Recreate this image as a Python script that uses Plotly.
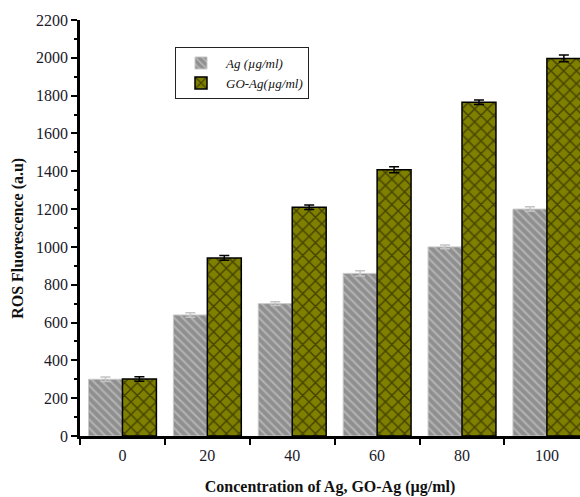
import plotly.graph_objects as go

categories = ["0", "20", "40", "60", "80", "100"]
ag_values = [300, 640, 700, 860, 1000, 1200]
ag_errors = [12, 12, 10, 14, 10, 12]
goag_values = [302, 942, 1210, 1408, 1765, 1997]
goag_errors = [12, 12, 12, 16, 12, 18]
y_ticks = list(range(0, 2201, 200))

SERIF = "Liberation Serif, Times New Roman, serif"

fig = go.Figure()
fig.add_trace(go.Bar(
    x=categories, y=ag_values, name="<i>Ag (µg/ml)</i>",
    error_y=dict(type="data", array=ag_errors, color="#c4c4c4", thickness=1.5, width=5),
    marker=dict(
        color="#8f8f8f",
        line=dict(color="#c8c8c8", width=1),
        pattern=dict(shape="\\", bgcolor="#8f8f8f", fgcolor="#d8d8d8", size=6, solidity=0.35),
    ),
))
fig.add_trace(go.Bar(
    x=categories, y=goag_values, name="<i>GO-Ag(µg/ml)</i>",
    error_y=dict(type="data", array=goag_errors, color="#000000", thickness=1.5, width=5),
    marker=dict(
        color="#7f7f00",
        line=dict(color="#000000", width=1.5),
        pattern=dict(shape="x", bgcolor="#7f7f00", fgcolor="#0a0a00", size=9, solidity=0.3),
    ),
))

fig.update_layout(
    width=580, height=497,
    margin=dict(l=80, r=0, t=20, b=61),
    paper_bgcolor="white", plot_bgcolor="white",
    barmode="group", bargap=0.2, bargroupgap=0,
    font=dict(family=SERIF, size=16, color="#1a1a2a"),
    showlegend=True,
    legend=dict(
        x=0.19, y=0.935, xanchor="left", yanchor="top",
        bgcolor="white", bordercolor="#222", borderwidth=1,
        font=dict(family=SERIF, size=13, color="#111"),
        tracegroupgap=2, itemwidth=40,
    ),
    xaxis=dict(
        type="category", categoryorder="array", categoryarray=categories,
        range=[-0.5, 5.39], tickson="boundaries",
        showline=True, linecolor="black", linewidth=2.5,
        ticks="outside", ticklen=6, tickwidth=2, tickcolor="black",
        showgrid=False, zeroline=False, ticklabelstandoff=3,
        tickfont=dict(family=SERIF, size=16),
        title=dict(text="<b>Concentration of Ag, GO-Ag (µg/ml)</b>",
                   font=dict(family=SERIF, size=16, color="#111"), standoff=18),
    ),
    yaxis=dict(
        range=[0, 2200], tickvals=y_ticks,
        showline=True, linecolor="black", linewidth=2.5,
        ticks="outside", ticklen=6, tickwidth=2, tickcolor="black",
        minor=dict(dtick=100, tick0=0, ticks="outside", ticklen=3, tickwidth=2, tickcolor="black", showgrid=False),
        showgrid=False, zeroline=False,
        tickfont=dict(family=SERIF, size=16),
    ),
    annotations=[dict(
        text="<b>ROS Fluorescence (a.u)</b>", textangle=-90,
        xref="paper", yref="paper", x=-0.124, y=0.474,
        xanchor="center", yanchor="middle", showarrow=False,
        font=dict(family=SERIF, size=16, color="#111"),
    )],
)

fig.write_html("out.html")
